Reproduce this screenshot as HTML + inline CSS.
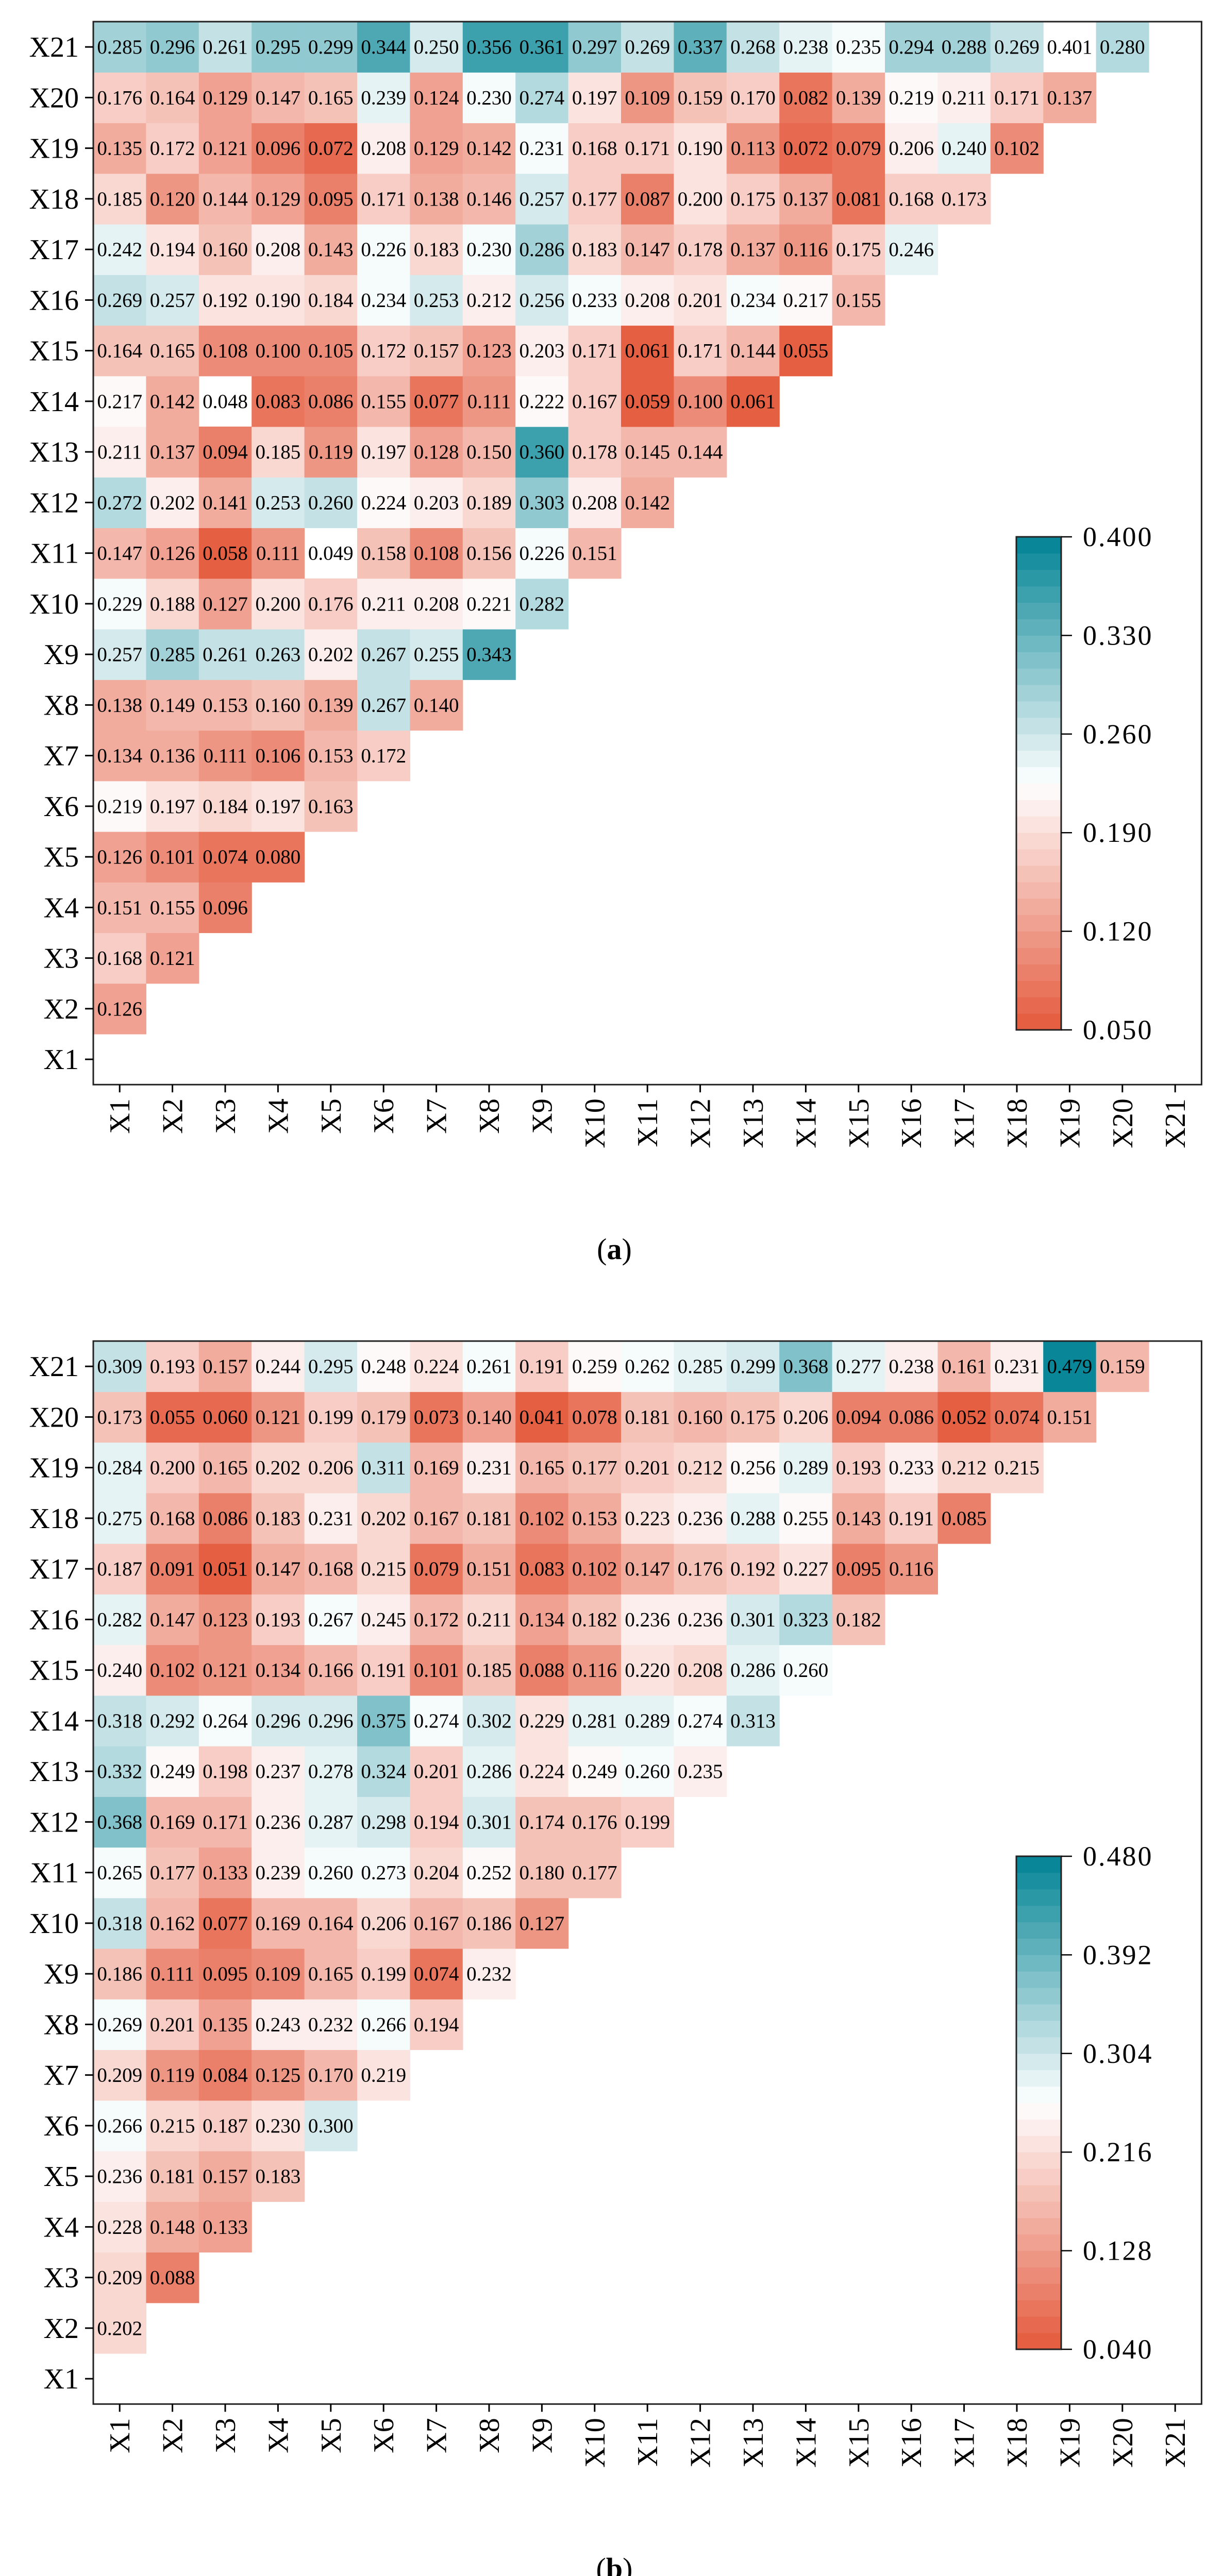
<!DOCTYPE html>
<html><head><meta charset="utf-8"><title>Heatmaps</title>
<style>
html,body{margin:0;padding:0;background:#fff;width:2373px;height:5046px;overflow:hidden;}
svg{display:block;position:absolute;left:0;top:0;}
text{font-family:"Liberation Serif","Times New Roman",serif;fill:#000;}
</style></head>
<body>
<svg id="fig" width="2373" height="5046" viewBox="0 0 2373 5046" xmlns="http://www.w3.org/2000/svg"></svg>
<script>
// ---------- data ----------
const varLabels = ["X1","X2","X3","X4","X5","X6","X7","X8","X9","X10","X11","X12","X13","X14","X15","X16","X17","X18","X19","X20","X21"];
// rows listed from X2 (index 1) up to X21; each row has values for X1..X(i-1)
const valuesA = [
 [0.126],
 [0.168,0.121],
 [0.151,0.155,0.096],
 [0.126,0.101,0.074,0.080],
 [0.219,0.197,0.184,0.197,0.163],
 [0.134,0.136,0.111,0.106,0.153,0.172],
 [0.138,0.149,0.153,0.160,0.139,0.267,0.140],
 [0.257,0.285,0.261,0.263,0.202,0.267,0.255,0.343],
 [0.229,0.188,0.127,0.200,0.176,0.211,0.208,0.221,0.282],
 [0.147,0.126,0.058,0.111,0.049,0.158,0.108,0.156,0.226,0.151],
 [0.272,0.202,0.141,0.253,0.260,0.224,0.203,0.189,0.303,0.208,0.142],
 [0.211,0.137,0.094,0.185,0.119,0.197,0.128,0.150,0.360,0.178,0.145,0.144],
 [0.217,0.142,0.048,0.083,0.086,0.155,0.077,0.111,0.222,0.167,0.059,0.100,0.061],
 [0.164,0.165,0.108,0.100,0.105,0.172,0.157,0.123,0.203,0.171,0.061,0.171,0.144,0.055],
 [0.269,0.257,0.192,0.190,0.184,0.234,0.253,0.212,0.256,0.233,0.208,0.201,0.234,0.217,0.155],
 [0.242,0.194,0.160,0.208,0.143,0.226,0.183,0.230,0.286,0.183,0.147,0.178,0.137,0.116,0.175,0.246],
 [0.185,0.120,0.144,0.129,0.095,0.171,0.138,0.146,0.257,0.177,0.087,0.200,0.175,0.137,0.081,0.168,0.173],
 [0.135,0.172,0.121,0.096,0.072,0.208,0.129,0.142,0.231,0.168,0.171,0.190,0.113,0.072,0.079,0.206,0.240,0.102],
 [0.176,0.164,0.129,0.147,0.165,0.239,0.124,0.230,0.274,0.197,0.109,0.159,0.170,0.082,0.139,0.219,0.211,0.171,0.137],
 [0.285,0.296,0.261,0.295,0.299,0.344,0.250,0.356,0.361,0.297,0.269,0.337,0.268,0.238,0.235,0.294,0.288,0.269,0.401,0.280]
];
const valuesB = [
 [0.202],
 [0.209,0.088],
 [0.228,0.148,0.133],
 [0.236,0.181,0.157,0.183],
 [0.266,0.215,0.187,0.230,0.300],
 [0.209,0.119,0.084,0.125,0.170,0.219],
 [0.269,0.201,0.135,0.243,0.232,0.266,0.194],
 [0.186,0.111,0.095,0.109,0.165,0.199,0.074,0.232],
 [0.318,0.162,0.077,0.169,0.164,0.206,0.167,0.186,0.127],
 [0.265,0.177,0.133,0.239,0.260,0.273,0.204,0.252,0.180,0.177],
 [0.368,0.169,0.171,0.236,0.287,0.298,0.194,0.301,0.174,0.176,0.199],
 [0.332,0.249,0.198,0.237,0.278,0.324,0.201,0.286,0.224,0.249,0.260,0.235],
 [0.318,0.292,0.264,0.296,0.296,0.375,0.274,0.302,0.229,0.281,0.289,0.274,0.313],
 [0.240,0.102,0.121,0.134,0.166,0.191,0.101,0.185,0.088,0.116,0.220,0.208,0.286,0.260],
 [0.282,0.147,0.123,0.193,0.267,0.245,0.172,0.211,0.134,0.182,0.236,0.236,0.301,0.323,0.182],
 [0.187,0.091,0.051,0.147,0.168,0.215,0.079,0.151,0.083,0.102,0.147,0.176,0.192,0.227,0.095,0.116],
 [0.275,0.168,0.086,0.183,0.231,0.202,0.167,0.181,0.102,0.153,0.223,0.236,0.288,0.255,0.143,0.191,0.085],
 [0.284,0.200,0.165,0.202,0.206,0.311,0.169,0.231,0.165,0.177,0.201,0.212,0.256,0.289,0.193,0.233,0.212,0.215],
 [0.173,0.055,0.060,0.121,0.199,0.179,0.073,0.140,0.041,0.078,0.181,0.160,0.175,0.206,0.094,0.086,0.052,0.074,0.151],
 [0.309,0.193,0.157,0.244,0.295,0.248,0.224,0.261,0.191,0.259,0.262,0.285,0.299,0.368,0.277,0.238,0.161,0.231,0.479,0.159]
];
const rangeA = [0.05, 0.40];
const rangeB = [0.04, 0.48];
const cbTicksA = ["0.050","0.120","0.190","0.260","0.330","0.400"];
const cbTicksB = ["0.040","0.128","0.216","0.304","0.392","0.480"];

// ---------- drawing ----------
const NS = "http://www.w3.org/2000/svg";
const svg = document.getElementById("fig");
function mk(tag, attrs, parent){
  const e = document.createElementNS(NS, tag);
  for (const k in attrs) e.setAttribute(k, attrs[k]);
  (parent||svg).appendChild(e);
  return e;
}
const LOW=[228,89,60], MID=[255,255,255], HIGH=[0,131,148];
const NB = 30;
function bandColor(b){
  const t = (b+0.5)/NB;
  let c;
  if (t < 0.5){ const u=t/0.5; c = LOW.map((v,i)=>v+(MID[i]-v)*u); }
  else { const u=(t-0.5)/0.5; c = MID.map((v,i)=>v+(HIGH[i]-v)*u); }
  return "rgb("+c.map(v=>Math.round(v)).join(",")+")";
}
function colorFor(v, range){
  if (v < range[0] || v > range[1]) return null;
  let b = Math.floor((v-range[0])/(range[1]-range[0])*NB);
  if (b >= NB) b = NB-1; if (b < 0) b = 0;
  return bandColor(b);
}

function drawPanel(values, range, ticks, oy, tag, caption){
  const L=181, T=42+oy, CW=102.4, RH=98.25, N=21;
  const R=L+CW*N, B=T+RH*N;
  const g = mk("g", {});
  
  
  const xs = i => L + i*CW;
  const ys = j => B - (j+1)*RH;
  values.forEach((row, ri)=>{
    const j = ri+1;
    row.forEach((v, i)=>{
      const col = colorFor(v, range);
      if (col){
        const r = mk("rect", {x:xs(i).toFixed(2), y:ys(j).toFixed(2), width:(CW+0.6).toFixed(2), height:(RH+0.6).toFixed(2), fill:col}, g);
        
        
      }
      const t = mk("text", {x:(xs(i)+CW/2).toFixed(2), y:(ys(j)+RH/2+13).toFixed(2), "text-anchor":"middle", "font-size":"39"}, g);
      
      
      t.textContent = v.toFixed(3);
    });
  });
  const fr = mk("rect", {x:L, y:T, width:R-L, height:B-T, fill:"none", stroke:"#222", "stroke-width":3}, g);
  
  
  varLabels.forEach((lab, j)=>{
    const cy = ys(j)+RH/2;
    mk("line", {x1:165, x2:L, y1:cy, y2:cy, stroke:"#000", "stroke-width":3}, g);
    const t = mk("text", {x:153, y:(cy+19).toFixed(2), "text-anchor":"end", "font-size":"56"}, g);
    
    
    t.textContent = lab;
  });
  varLabels.forEach((lab, i)=>{
    const cx = xs(i)+CW/2;
    mk("line", {x1:cx, x2:cx, y1:B, y2:B+15, stroke:"#000", "stroke-width":3}, g);
    const t = mk("text", {x:0, y:0, "text-anchor":"end", "font-size":"56",
      transform:"translate("+(cx+19).toFixed(2)+","+(B+27)+") rotate(-90)"}, g);
    
    
    t.textContent = lab;
  });
  const cbL=1972, cbR=2059, cbT=1042+oy, cbB=1999+oy;
  const cb = mk("g", {}, g);
  
  
  const bh = (cbB-cbT)/NB;
  for (let b=0;b<NB;b++){
    mk("rect", {x:cbL, y:(cbB-(b+1)*bh).toFixed(2), width:cbR-cbL, height:(bh+0.5).toFixed(2), fill:bandColor(b)}, cb);
  }
  mk("rect", {x:cbL, y:cbT, width:cbR-cbL, height:cbB-cbT, fill:"none", stroke:"#222", "stroke-width":3}, cb);
  ticks.forEach((lab, k)=>{
    const v = parseFloat(lab);
    const ty = cbB - (v-range[0])/(range[1]-range[0])*(cbB-cbT);
    mk("line", {x1:cbR, x2:2080, y1:ty, y2:ty, stroke:"#000", "stroke-width":2.5}, cb);
    const t = mk("text", {x:2101, y:(ty+18).toFixed(2), "font-size":"54", "letter-spacing":"3"}, cb);
    
    
    t.textContent = lab;
  });
  const cap = mk("text", {x:1192, y:2444+oy, "text-anchor":"middle", "font-size":"58"}, g);
  
  
  cap.innerHTML = '(<tspan font-weight="bold">'+caption+'</tspan>)';
}
drawPanel(valuesA, rangeA, cbTicksA, 0, "a", "a");
drawPanel(valuesB, rangeB, cbTicksB, 2561, "b", "b");
</script>
</body></html>
